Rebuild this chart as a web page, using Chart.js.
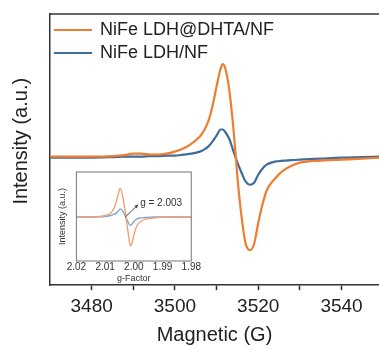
<!DOCTYPE html>
<html>
<head>
<meta charset="utf-8">
<script src="https://cdn.jsdelivr.net/npm/chart.js@4/dist/chart.umd.min.js"></script>
<style>
  html, body { margin: 0; padding: 0; background: #fff; }
  #wrap { position: relative; width: 379px; height: 349px; overflow: hidden; }
  #main { position: absolute; left: 0; top: 0; }
  #inset { position: absolute; left: 52px; top: 166px; background: #fff; }
</style>
</head>
<body>
<div id="wrap">
  <canvas id="main" width="379" height="349"></canvas>
  <canvas id="inset" width="149" height="117"></canvas>
</div>
<script>
// ---- Main chart data (field in G, intensity in arbitrary units) ----
const fieldG = [3470, 3475, 3480, 3485, 3488, 3490, 3492, 3494, 3496, 3498, 3500, 3502, 3504, 3506, 3507, 3508, 3509, 3510, 3511, 3511.5, 3512, 3513, 3514, 3514.5, 3515, 3516, 3517, 3518, 3519, 3520, 3521, 3522, 3524, 3526, 3528, 3530, 3535, 3540, 3545, 3549];
const dhtaSeries = [0, 0, 0, 0.5, 1.5, 3, 3, 2, 2, 3, 5, 8, 13, 20, 26, 35, 50, 70, 88, 92, 89, 68, 30, 6, -20, -60, -87, -93, -87, -66, -48, -34, -22, -14, -9, -6, -4, -3, -2, -1];
const ldhSeries  = [-1, -1, -1, -0.5, 0, 0, 0, 0.5, 0.5, 1, 1, 2, 3, 5, 7, 10, 15, 21, 27, 27, 25, 18, 6, 0, -6, -16, -25, -28, -26, -18, -12, -8, -5, -4, -3.5, -3, -2, -1, -0.5, 0];
const seriesNames = ['NiFe LDH@DHTA/NF', 'NiFe LDH/NF'];
const xTickValues = [3480, 3500, 3520, 3540];

// ---- Inset data (g-factor) ----
const gFactor = [2.020, 2.015, 2.012, 2.010, 2.008, 2.007, 2.006, 2.005, 2.0047, 2.004, 2.003, 2.0025, 2.002, 2.0015, 2.0011, 2.0005, 2.000, 1.999, 1.998, 1.996, 1.993, 1.990, 1.985, 1.980];
const insetDhta = [0, 0, 0.5, 1.5, 4, 8, 16, 27, 28, 22, 5, -5, -15, -25, -28, -24, -18, -9, -5, -2, -1, 0, 0, 0];
const insetLdh  = [0, 0, 0.2, 0.5, 1.5, 2.5, 4, 7, 8, 6.5, 1, -2, -5, -7.5, -8, -6.5, -4.5, -2, -1, -0.5, 0, 0, 0, 0];
const gTickValues = [2.02, 2.01, 2.00, 1.99, 1.98];
const gAnnotation = { label: 'g = 2.003', g: 2.003, value: 0, textG: 1.9985, textValue: 12 };

const FONT = 'Liberation Sans, Arial, sans-serif';

const frameTop = {
  id: 'frameTop',
  afterDraw(chart) {
    const { ctx, chartArea } = chart;
    ctx.save();
    ctx.strokeStyle = '#333';
    ctx.lineWidth = 1.5;
    ctx.beginPath();
    ctx.moveTo(chartArea.left, chartArea.top);
    ctx.lineTo(chartArea.right + 2, chartArea.top);
    ctx.stroke();
    ctx.restore();
  }
};

new Chart(document.getElementById('main'), {
  type: 'line',
  data: {
    datasets: [
      { label: seriesNames[0], data: fieldG.map((x, i) => ({ x, y: dhtaSeries[i] })),
        borderColor: '#EE7D31', backgroundColor: '#EE7D31', borderWidth: 2.2, pointRadius: 0,
        cubicInterpolationMode: 'monotone' },
      { label: seriesNames[1], data: fieldG.map((x, i) => ({ x, y: ldhSeries[i] })),
        borderColor: '#3F6C98', backgroundColor: '#3F6C98', borderWidth: 2.2, pointRadius: 0,
        cubicInterpolationMode: 'monotone' }
    ]
  },
  options: {
    responsive: false, animation: false,
    layout: { padding: { left: 10, top: 14, right: 0, bottom: 2 } },
    plugins: {
      tooltip: { enabled: false },
      legend: {
        position: 'chartArea', align: 'start',
        title: { display: true, text: ' ', font: { size: 10, lineHeight: 1 }, padding: { top: 0, bottom: 6 } },
        labels: { boxWidth: 36, boxHeight: 0.01, padding: 5, color: '#222',
          font: { family: FONT, size: 18 } }
      }
    },
    scales: {
      x: {
        type: 'linear', min: 3470, max: 3549,
        afterBuildTicks(scale) {
          scale.ticks = [];
          for (let v = 3480; v <= 3540; v += 10) scale.ticks.push({ value: v });
        },
        ticks: { padding: 5, color: '#222', font: { family: FONT, size: 19 },
          callback: v => xTickValues.includes(v) ? String(v) : '' },
        grid: { display: true, drawOnChartArea: false, drawTicks: true, tickLength: 5, color: '#333', tickWidth: 1.5 },
        border: { display: true, color: '#333', width: 1.5 },
        title: { display: true, text: 'Magnetic (G)', color: '#222',
          font: { family: FONT, size: 20 }, padding: { top: 0, bottom: 0 } }
      },
      y: {
        min: -128, max: 142,
        ticks: { display: false },
        grid: { display: false, drawTicks: false },
        border: { display: true, color: '#333', width: 1.5 },
        title: { display: true, text: '   Intensity (a.u.)', color: '#222',
          font: { family: FONT, size: 20, lineHeight: 1.15 }, padding: { top: 0, bottom: 17 } }
      }
    }
  },
  plugins: [frameTop]
});

const annotate = {
  id: 'annotate',
  afterDatasetsDraw(chart) {
    const { ctx, scales } = chart;
    const x0 = scales.x.getPixelForValue(gAnnotation.textG);
    const y0 = scales.y.getPixelForValue(gAnnotation.textValue);
    const x1 = scales.x.getPixelForValue(gAnnotation.g);
    const y1 = scales.y.getPixelForValue(gAnnotation.value);
    ctx.save();
    ctx.strokeStyle = '#444'; ctx.fillStyle = '#444'; ctx.lineWidth = 1;
    ctx.beginPath(); ctx.moveTo(x0, y0); ctx.lineTo(x1, y1); ctx.stroke();
    const ang = Math.atan2(y1 - y0, x1 - x0);
    ctx.beginPath();
    ctx.moveTo(x0, y0);
    ctx.lineTo(x0 + 4 * Math.cos(ang + 0.5), y0 + 4 * Math.sin(ang + 0.5));
    ctx.lineTo(x0 + 4 * Math.cos(ang - 0.5), y0 + 4 * Math.sin(ang - 0.5));
    ctx.closePath(); ctx.fill();
    ctx.fillStyle = '#333';
    ctx.font = '10px ' + FONT;
    ctx.textBaseline = 'middle';
    ctx.fillText(gAnnotation.label, x0 + 2, y0 - 1);
    ctx.restore();
  }
};

const insetFrame = {
  id: 'insetFrame',
  afterDraw(chart) {
    const { ctx, chartArea } = chart;
    ctx.save();
    ctx.strokeStyle = '#777'; ctx.lineWidth = 1;
    ctx.strokeRect(chartArea.left, chartArea.top, chartArea.right - chartArea.left, chartArea.bottom - chartArea.top);
    ctx.restore();
  }
};

new Chart(document.getElementById('inset'), {
  type: 'line',
  data: {
    datasets: [
      { data: gFactor.map((x, i) => ({ x, y: insetDhta[i] })),
        borderColor: '#F3A073', borderWidth: 1.4, pointRadius: 0, cubicInterpolationMode: 'monotone' },
      { data: gFactor.map((x, i) => ({ x, y: insetLdh[i] })),
        borderColor: '#7EA7CB', borderWidth: 1.4, pointRadius: 0, cubicInterpolationMode: 'monotone' }
    ]
  },
  options: {
    responsive: false, animation: false,
    layout: { padding: { left: 5, top: 6, right: 0, bottom: 0 } },
    plugins: { legend: { display: false }, tooltip: { enabled: false } },
    scales: {
      x: {
        type: 'linear', min: 1.98, max: 2.02, reverse: true,
        afterBuildTicks(scale) { scale.ticks = gTickValues.map(v => ({ value: v })); },
        ticks: { padding: 0, color: '#333', autoSkip: false, maxRotation: 0,
          font: { family: FONT, size: 10 }, callback: v => v.toFixed(2) },
        grid: { display: false, drawTicks: false },
        border: { display: false },
        title: { display: true, text: 'g-Factor', color: '#333',
          font: { family: FONT, size: 9, lineHeight: 1 }, padding: { top: 1, bottom: 0 } }
      },
      y: {
        min: -43, max: 44,
        ticks: { display: false },
        grid: { display: false, drawTicks: false },
        border: { display: false },
        title: { display: true, text: 'Intensity (a.u.)', color: '#333',
          font: { family: FONT, size: 9, lineHeight: 1.2 }, padding: { top: 0.6, bottom: 8 } }
      }
    }
  },
  plugins: [insetFrame, annotate]
});
</script>
</body>
</html>
